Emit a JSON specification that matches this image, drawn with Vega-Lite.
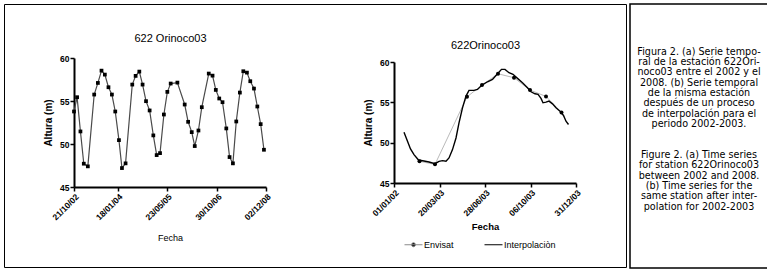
{
  "$schema": "https://vega.github.io/schema/vega-lite/v6.json",
  "background": "white",
  "padding": {"left": 3, "top": 3, "right": 0, "bottom": 0},
  "spacing": 2,
  "config": {
    "axis": {"grid": false, "domainColor": "black", "tickColor": "black", "labelColor": "black", "titleColor": "black", "labelFont": "Liberation Sans", "titleFont": "Liberation Sans", "labelFlush": false, "labelOverlap": false, "labelBound": false},
    "legend": {"labelFont": "Liberation Sans", "labelColor": "black"}
  },
  "datasets": {
    "serieA": [
      {"fecha": "2002-10-21", "altura": 53.78}, {"fecha": "2002-11-26", "altura": 55.44}, {"fecha": "2003-01-04", "altura": 51.46},
      {"fecha": "2003-02-12", "altura": 47.71}, {"fecha": "2003-03-31", "altura": 47.4}, {"fecha": "2003-06-13", "altura": 55.75},
      {"fecha": "2003-07-26", "altura": 57.1}, {"fecha": "2003-09-06", "altura": 58.53}, {"fecha": "2003-10-15", "altura": 58.07},
      {"fecha": "2003-11-26", "altura": 56.6}, {"fecha": "2004-01-05", "altura": 55.75}, {"fecha": "2004-02-13", "altura": 53.78},
      {"fecha": "2004-03-27", "altura": 50.45}, {"fecha": "2004-05-01", "altura": 47.2}, {"fecha": "2004-06-12", "altura": 47.75},
      {"fecha": "2004-08-29", "altura": 56.91}, {"fecha": "2004-10-07", "altura": 57.92}, {"fecha": "2004-11-19", "altura": 58.42},
      {"fecha": "2004-12-27", "altura": 56.91}, {"fecha": "2005-02-05", "altura": 54.98}, {"fecha": "2005-03-19", "altura": 53.9},
      {"fecha": "2005-05-01", "altura": 51.0}, {"fecha": "2005-06-09", "altura": 48.71}, {"fecha": "2005-07-18", "altura": 48.94},
      {"fecha": "2005-09-01", "altura": 53.43}, {"fecha": "2005-10-11", "altura": 56.06}, {"fecha": "2005-11-19", "altura": 57.03},
      {"fecha": "2006-02-05", "altura": 57.14}, {"fecha": "2006-05-01", "altura": 54.59}, {"fecha": "2006-06-10", "altura": 52.58},
      {"fecha": "2006-07-22", "altura": 51.38}, {"fecha": "2006-08-26", "altura": 49.76}, {"fecha": "2006-10-08", "altura": 51.57},
      {"fecha": "2006-11-16", "altura": 54.28}, {"fecha": "2007-02-05", "altura": 58.19}, {"fecha": "2007-03-21", "altura": 57.95},
      {"fecha": "2007-04-28", "altura": 56.29}, {"fecha": "2007-06-07", "altura": 55.29}, {"fecha": "2007-07-15", "altura": 54.86},
      {"fecha": "2007-08-28", "altura": 51.81}, {"fecha": "2007-10-05", "altura": 48.48}, {"fecha": "2007-11-13", "altura": 47.75},
      {"fecha": "2007-12-22", "altura": 52.62}, {"fecha": "2008-02-02", "altura": 55.98}, {"fecha": "2008-03-13", "altura": 58.46},
      {"fecha": "2008-04-24", "altura": 58.3}, {"fecha": "2008-06-02", "altura": 57.3}, {"fecha": "2008-07-15", "altura": 56.45},
      {"fecha": "2008-08-23", "altura": 54.36}, {"fecha": "2008-10-01", "altura": 52.31}, {"fecha": "2008-11-08", "altura": 49.33}
    ],
    "serieB": [
      {"serie": "Envisat", "fecha": "2003-02-21", "altura": 47.69}, {"serie": "Envisat", "fecha": "2003-03-24", "altura": 47.31},
      {"serie": "Envisat", "fecha": "2003-05-27", "altura": 55.68}, {"serie": "Envisat", "fecha": "2003-06-26", "altura": 57.14},
      {"serie": "Envisat", "fecha": "2003-07-28", "altura": 58.54}, {"serie": "Envisat", "fecha": "2003-08-29", "altura": 58.05},
      {"serie": "Envisat", "fecha": "2003-09-30", "altura": 56.52}, {"serie": "Envisat", "fecha": "2003-11-01", "altura": 55.73},
      {"serie": "Envisat", "fecha": "2003-12-02", "altura": 53.74},
      {"serie": "Interpolaciòn", "fecha": "2003-01-21", "altura": 51.29}, {"serie": "Interpolaciòn", "fecha": "2003-01-28", "altura": 50.17},
      {"serie": "Interpolaciòn", "fecha": "2003-02-03", "altura": 49.22}, {"serie": "Interpolaciòn", "fecha": "2003-02-10", "altura": 48.52},
      {"serie": "Interpolaciòn", "fecha": "2003-02-19", "altura": 47.85}, {"serie": "Interpolaciòn", "fecha": "2003-03-02", "altura": 47.73},
      {"serie": "Interpolaciòn", "fecha": "2003-03-12", "altura": 47.6}, {"serie": "Interpolaciòn", "fecha": "2003-03-24", "altura": 47.4},
      {"serie": "Interpolaciòn", "fecha": "2003-04-01", "altura": 47.69}, {"serie": "Interpolaciòn", "fecha": "2003-04-08", "altura": 47.77},
      {"serie": "Interpolaciòn", "fecha": "2003-04-15", "altura": 47.69}, {"serie": "Interpolaciòn", "fecha": "2003-04-21", "altura": 48.1},
      {"serie": "Interpolaciòn", "fecha": "2003-04-28", "altura": 49.14}, {"serie": "Interpolaciòn", "fecha": "2003-05-05", "altura": 50.58},
      {"serie": "Interpolaciòn", "fecha": "2003-05-11", "altura": 52.45}, {"serie": "Interpolaciòn", "fecha": "2003-05-18", "altura": 54.32},
      {"serie": "Interpolaciòn", "fecha": "2003-05-25", "altura": 55.77}, {"serie": "Interpolaciòn", "fecha": "2003-05-31", "altura": 56.48},
      {"serie": "Interpolaciòn", "fecha": "2003-06-10", "altura": 56.48}, {"serie": "Interpolaciòn", "fecha": "2003-06-17", "altura": 56.6},
      {"serie": "Interpolaciòn", "fecha": "2003-06-26", "altura": 57.14}, {"serie": "Interpolaciòn", "fecha": "2003-07-07", "altura": 57.55},
      {"serie": "Interpolaciòn", "fecha": "2003-07-17", "altura": 57.85}, {"serie": "Interpolaciòn", "fecha": "2003-07-27", "altura": 58.54},
      {"serie": "Interpolaciòn", "fecha": "2003-08-04", "altura": 59.09}, {"serie": "Interpolaciòn", "fecha": "2003-08-11", "altura": 59.09},
      {"serie": "Interpolaciòn", "fecha": "2003-08-19", "altura": 58.67}, {"serie": "Interpolaciòn", "fecha": "2003-08-27", "altura": 58.47},
      {"serie": "Interpolaciòn", "fecha": "2003-09-05", "altura": 57.97}, {"serie": "Interpolaciòn", "fecha": "2003-09-15", "altura": 57.43},
      {"serie": "Interpolaciòn", "fecha": "2003-09-25", "altura": 56.8}, {"serie": "Interpolaciòn", "fecha": "2003-10-02", "altura": 56.31},
      {"serie": "Interpolaciòn", "fecha": "2003-10-10", "altura": 56.06}, {"serie": "Interpolaciòn", "fecha": "2003-10-16", "altura": 55.98},
      {"serie": "Interpolaciòn", "fecha": "2003-10-22", "altura": 55.49}, {"serie": "Interpolaciòn", "fecha": "2003-10-26", "altura": 54.94},
      {"serie": "Interpolaciòn", "fecha": "2003-11-01", "altura": 55.02}, {"serie": "Interpolaciòn", "fecha": "2003-11-07", "altura": 55.15},
      {"serie": "Interpolaciòn", "fecha": "2003-11-14", "altura": 54.81}, {"serie": "Interpolaciòn", "fecha": "2003-11-21", "altura": 54.32},
      {"serie": "Interpolaciòn", "fecha": "2003-11-29", "altura": 53.91}, {"serie": "Interpolaciòn", "fecha": "2003-12-06", "altura": 53.37},
      {"serie": "Interpolaciòn", "fecha": "2003-12-11", "altura": 52.66}, {"serie": "Interpolaciòn", "fecha": "2003-12-16", "altura": 52.25}
    ],
    "leyenda": [
      {"renglon": 0, "texto": "Figura 2. (a) Serie tempo-"},
      {"renglon": 1, "texto": "ral de la estación 622Ori-"},
      {"renglon": 2, "texto": "noco03 entre el 2002 y el"},
      {"renglon": 3, "texto": "2008. (b) Serie temporal"},
      {"renglon": 4, "texto": "de la misma estación"},
      {"renglon": 5, "texto": "después de un proceso"},
      {"renglon": 6, "texto": "de interpolación para el"},
      {"renglon": 7, "texto": "periodo 2002-2003."},
      {"renglon": 10, "texto": "Figure 2. (a) Time series"},
      {"renglon": 11, "texto": "for station 622Orinoco03"},
      {"renglon": 12, "texto": "between 2002 and 2008."},
      {"renglon": 13, "texto": "(b) Time series for the"},
      {"renglon": 14, "texto": "same station after inter-"},
      {"renglon": 15, "texto": "polation for 2002-2003"}
    ]
  },
  "hconcat": [
    {
      "width": 622,
      "height": 263,
      "view": {"stroke": "black", "strokeWidth": 1, "fill": "white"},
      "layer": [
        {
          "data": {"name": "serieA"},
          "layer": [
            {
              "mark": {"type": "line", "color": "#4a4a4a", "strokeWidth": 1.2},
              "encoding": {
                "x": {
                  "field": "fecha", "type": "temporal",
                  "scale": {"domain": [{"year": 2002, "month": 10, "date": 21, "utc": true}, {"year": 2008, "month": 12, "date": 2, "utc": true}], "range": [70, 262]},
                  "axis": {
                    "orient": "bottom", "offset": -80, "title": "Fecha",
                    "values": [{"year": 2002, "month": 10, "date": 21, "utc": true}, {"year": 2004, "month": 3, "date": 11, "utc": true}, {"year": 2005, "month": 10, "date": 7, "utc": true}, {"year": 2007, "month": 5, "date": 10, "utc": true}, {"year": 2008, "month": 12, "date": 2, "utc": true}],
                    "labelExpr": "datum.value < 1.05e12 ? '21/10/02' : datum.value < 1.1e12 ? '18/01/04' : datum.value < 1.15e12 ? '23/05/05' : datum.value < 1.2e12 ? '30/10/06' : '02/12/08'",
                    "labelAngle": -45, "labelAlign": "right", "labelBaseline": "top", "labelFontSize": 8.5, "labelFontWeight": "bold", "labelPadding": 1,
                    "tickSize": 4, "tickWidth": 1.5, "domainWidth": 2,
                    "titleFontSize": 9, "titleFontWeight": "normal", "titlePadding": 12
                  }
                },
                "y": {
                  "field": "altura", "type": "quantitative",
                  "scale": {"domain": [45, 60], "range": [183, 54], "nice": false, "zero": false},
                  "axis": {
                    "orient": "left", "offset": -70, "title": "Altura (m)", "values": [45, 50, 55, 60],
                    "labelFontSize": 8.5, "labelFontWeight": "bold", "labelPadding": 1,
                    "tickSize": 4, "tickWidth": 1.5, "domainWidth": 2,
                    "titleFontSize": 10, "titleFontWeight": "bold", "titlePadding": 6
                  }
                }
              }
            },
            {
              "mark": {"type": "point", "shape": "square", "filled": true, "color": "black", "size": 14, "opacity": 1},
              "encoding": {
                "x": {
                  "field": "fecha", "type": "temporal",
                  "axis": {"orient": "top", "offset": -39, "title": "622 Orinoco03", "labels": false, "ticks": false, "domain": false, "titleFontSize": 11, "titleFontWeight": "normal", "titlePadding": 0}
                },
                "y": {"field": "altura", "type": "quantitative"}
              }
            }
          ],
          "resolve": {"axis": {"x": "independent"}}
        },
        {
          "data": {"name": "serieB"},
          "layer": [
            {
              "transform": [{"filter": "datum.serie === 'Envisat'"}],
              "mark": {"type": "line", "strokeWidth": 0.6},
              "encoding": {
                "x": {
                  "field": "fecha", "type": "temporal",
                  "scale": {"domain": [{"year": 2003, "month": 1, "date": 1, "utc": true}, {"year": 2003, "month": 12, "date": 31, "utc": true}], "range": [390, 572]},
                  "axis": {
                    "orient": "bottom", "offset": -84, "title": "Fecha",
                    "values": [{"year": 2003, "month": 1, "date": 1, "utc": true}, {"year": 2003, "month": 4, "date": 2, "utc": true}, {"year": 2003, "month": 7, "date": 2, "utc": true}, {"year": 2003, "month": 10, "date": 1, "utc": true}, {"year": 2003, "month": 12, "date": 31, "utc": true}],
                    "labelExpr": "datum.value < 1.045e12 ? '01/01/02' : datum.value < 1.053e12 ? '20/03/03' : datum.value < 1.061e12 ? '28/06/03' : datum.value < 1.069e12 ? '06/10/03' : '31/12/03'",
                    "labelAngle": -45, "labelAlign": "right", "labelBaseline": "top", "labelFontSize": 8.5, "labelFontWeight": "bold", "labelPadding": 1,
                    "tickSize": 4, "tickWidth": 1.5, "domainWidth": 2,
                    "titleFontSize": 9.5, "titleFontWeight": "bold", "titlePadding": 4
                  }
                },
                "y": {
                  "field": "altura", "type": "quantitative",
                  "scale": {"domain": [45, 60], "range": [179, 58], "nice": false, "zero": false},
                  "axis": {
                    "orient": "left", "offset": -390, "title": "Altura (m)", "values": [45, 50, 55, 60],
                    "labelFontSize": 8.5, "labelFontWeight": "bold", "labelPadding": 1,
                    "tickSize": 4, "tickWidth": 1.5, "domainWidth": 2,
                    "titleFontSize": 10, "titleFontWeight": "bold", "titlePadding": 6
                  }
                },
                "color": {
                  "field": "serie", "type": "nominal",
                  "scale": {"domain": ["Envisat", "Interpolaciòn"], "range": ["#8a8a8a", "#000000"]},
                  "legend": {
                    "title": null, "orient": "none", "legendX": 400, "legendY": 231, "direction": "horizontal",
                    "symbolType": "stroke", "symbolSize": 324, "symbolStrokeWidth": 1, "symbolStrokeColor": "black",
                    "labelFontSize": 9, "labelOffset": 1, "columnPadding": 28,
                    "encode": {
                      "symbols": {
                        "update": {
                          "shape": {"signal": "datum.value === 'Envisat' ? 'M-1,0L1,0M0.22,0A0.22,0.22,0,1,1,-0.22,0A0.22,0.22,0,1,1,0.22,0Z' : 'stroke'"},
                          "fill": {"value": "black"},
                          "stroke": {"value": "black"},
                          "strokeWidth": {"value": 1}
                        }
                      }
                    }
                  }
                }
              }
            },
            {
              "transform": [{"filter": "datum.serie === 'Interpolaciòn'"}],
              "mark": {"type": "line", "strokeWidth": 1.4},
              "encoding": {
                "x": {"field": "fecha", "type": "temporal", "axis": null},
                "y": {"field": "altura", "type": "quantitative"},
                "color": {"field": "serie", "type": "nominal"}
              }
            },
            {
              "transform": [{"filter": "datum.serie === 'Envisat'"}],
              "mark": {"type": "point", "shape": "circle", "filled": true, "color": "black", "size": 16, "opacity": 1},
              "encoding": {
                "x": {
                  "field": "fecha", "type": "temporal",
                  "axis": {"orient": "top", "offset": -46, "title": "622Orinoco03", "labels": false, "ticks": false, "domain": false, "titleFontSize": 11, "titleFontWeight": "normal", "titlePadding": 0}
                },
                "y": {"field": "altura", "type": "quantitative"}
              }
            }
          ],
          "resolve": {"axis": {"x": "independent"}}
        }
      ],
      "resolve": {"scale": {"x": "independent", "y": "independent"}, "axis": {"x": "independent", "y": "independent"}}
    },
    {
      "width": 138,
      "height": 264,
      "view": {"stroke": "black", "strokeWidth": 1.5, "fill": "white"},
      "data": {"name": "leyenda"},
      "mark": {"type": "text", "font": "DejaVu Sans", "fontSize": 9.6, "color": "black", "align": "center", "baseline": "middle"},
      "encoding": {
        "y": {"field": "renglon", "type": "quantitative", "scale": {"domain": [0, 15], "range": [47.7, 202.7]}, "axis": null},
        "text": {"field": "texto", "type": "nominal"}
      }
    }
  ]
}
